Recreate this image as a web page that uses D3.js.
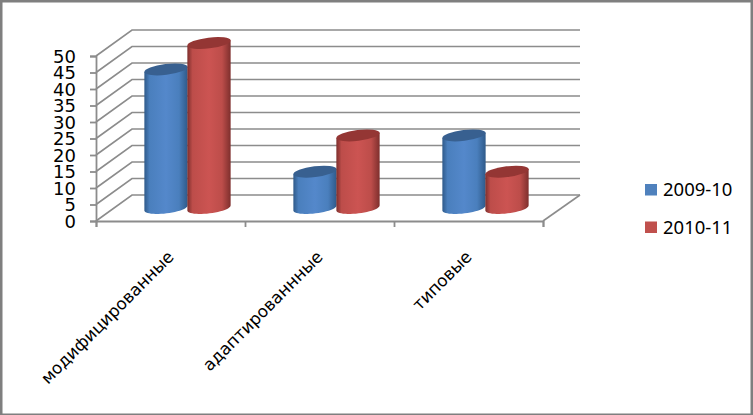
<!DOCTYPE html>
<html><head><meta charset="utf-8">
<script src="https://cdn.jsdelivr.net/npm/d3@7"></script>
<style>html,body{margin:0;padding:0;background:#fff}svg{display:block}</style>
</head><body><svg id="c" width="753" height="415"></svg>
<script>
const categories = ["модифицированные","адаптированнные","типовые"];
const seriesNames = ["2009-10","2010-11"];
const values2009 = [42,11,22];
const values2010 = [50,22,11];
const yTicks = [0,5,10,15,20,25,30,35,40,45,50];

const svg = d3.select("#c");
const W=753,H=415, gridCol="#8c8c8c";
const x0=96,x1=543,yBase=221,yTop=56,dx=36,dy=-26;
const x = d3.scaleBand().domain(categories).range([x0,x1]);
const y = d3.scaleLinear().domain([0,50]).range([yBase,yTop]);
const sub = d3.scaleBand().domain(seriesNames).range([0,86]);

// frame
svg.append("rect").attr("x",0).attr("y",0).attr("width",W).attr("height",H).attr("fill","#fff");
const frame=svg.append("g").attr("fill","#7f7f7f");
frame.append("rect").attr("width",W).attr("height",2.5);
frame.append("rect").attr("width",2.5).attr("height",H);
frame.append("rect").attr("x",W-2.5).attr("width",2.5).attr("height",H);
frame.append("rect").attr("y",H-1.5).attr("width",W).attr("height",1.5);

// gradients
const defs=svg.append("defs");
function grad(id,edge,mid,lo){
  const g=defs.append("linearGradient").attr("id",id).attr("x1",0).attr("x2",1).attr("y1",0).attr("y2",0);
  [[0,edge],[.12,lo],[.5,mid],[.8,lo],[1,edge]].forEach(s=>g.append("stop").attr("offset",s[0]).attr("stop-color",s[1]));
}
grad("g0","#2f5a8a","#5488cb","#4a7fbd");
grad("g1","#7e2f2d","#cc5452","#bd4d4a");
const topCol=["#386090","#943634"], legCol=["#4f81bd","#c0504d"];

// walls and floor gridlines
const walls=svg.append("g").attr("fill","none").attr("stroke",gridCol).attr("stroke-width",1.6);
yTicks.forEach(t=>{
  const yy=y(t);
  walls.append("path").attr("d",`M${x0},${yy}L${x0+dx},${yy+dy}L${x1+dx+1},${yy+dy}`);
});
walls.append("path").attr("d",`M${x1+dx+1},${yBase+dy}L${x1},${yBase}`);

// axes
const axL=d3.axisLeft(y).tickValues(yTicks).tickSize(6).tickPadding(14);
const gy=svg.append("g").attr("transform",`translate(${x0},0)`).call(axL);
const axB=d3.axisBottom(d3.scaleLinear().domain([0,3]).range([x0,x1])).tickValues([0,1,2,3]).tickSize(6).tickFormat("");
const gx=svg.append("g").attr("transform",`translate(0,${yBase})`).call(axB);
[gy,gx].forEach(g=>{g.selectAll("path,line").attr("stroke",gridCol).attr("stroke-width",1.8);});
gy.selectAll("text").attr("font-family","DejaVu Sans").attr("font-size",18).attr("fill","#000").attr("dy","0.36em");

// category labels
svg.append("g").selectAll("text").data(categories).join("text")
  .attr("transform",d=>`translate(${x(d)+x.bandwidth()/2-4.5},${249}) rotate(-45)`)
  .attr("text-anchor","end").attr("font-family","DejaVu Sans").attr("font-size",16.8).attr("fill","#000")
  .attr("dy","0.75em").text(d=>d);

// bars
const rx=21.8, ry=5.4, tilt=-7, baseOffY=-13;
const bars=svg.append("g");
const rad=tilt*Math.PI/180;
const ellPt=(cx,cy,t)=>[cx+rx*Math.cos(t)*Math.cos(rad)-ry*Math.sin(t)*Math.sin(rad),
                         cy+rx*Math.cos(t)*Math.sin(rad)+ry*Math.sin(t)*Math.cos(rad)];
const line=d3.line();
categories.forEach((c,i)=>{
  [values2009,values2010].forEach((vals,s)=>{
    const v=vals[i];
    const cx=x(c)+x.bandwidth()/2-26+sub(seriesNames[s])+sub.bandwidth()/2;
    const base=y(0)+baseOffY, top=y(v)+baseOffY;
    const lower=d3.range(0,25).map(k=>ellPt(cx,base,Math.PI-k*Math.PI/24));
    const pts=[ellPt(cx,top,Math.PI),...lower,ellPt(cx,top,0)];
    bars.append("path").attr("d",line(pts)+"Z").attr("fill",`url(#g${s})`);
    bars.append("ellipse").attr("cx",cx).attr("cy",top).attr("rx",rx).attr("ry",ry)
      .attr("transform",`rotate(${tilt} ${cx} ${top})`).attr("fill",topCol[s]);
  });
});

// legend
const lg=svg.append("g");
seriesNames.forEach((n,i)=>{
  const ly=189.5+i*37.5;
  lg.append("rect").attr("x",645).attr("y",ly-5.5).attr("width",12).attr("height",11.5).attr("fill",legCol[i]);
  lg.append("text").attr("x",663).attr("y",ly).attr("dy","0.36em").attr("font-family","Noto Sans").attr("font-size",18.5).attr("fill","#000").text(n);
});
</script></body></html>
